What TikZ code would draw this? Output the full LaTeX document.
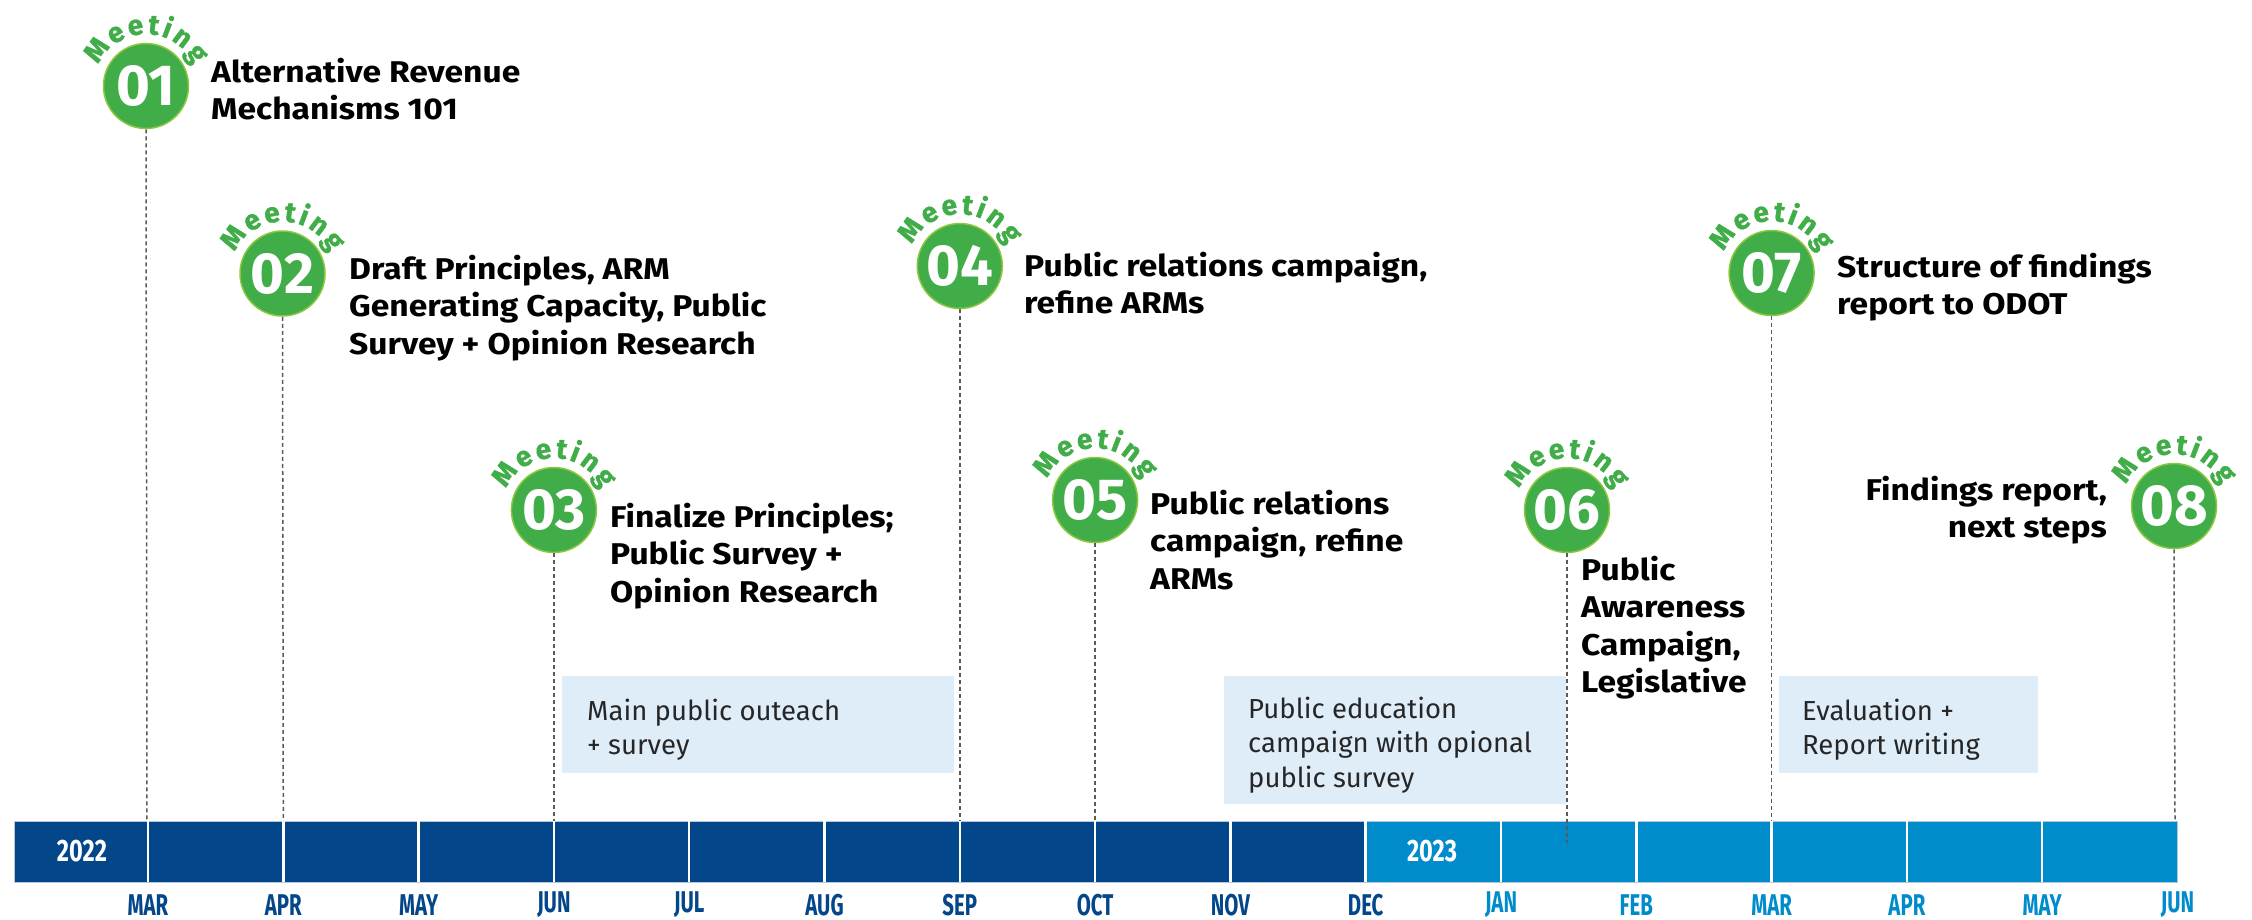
\documentclass[tikz,border=0pt]{standalone}
\usepackage{fontspec}
\setmainfont{Fira Sans}
\setsansfont{Fira Sans}
\newfontfamily\condfont{Fira Sans}[FakeStretch=0.68]
\newfontfamily\yearfont{Fira Sans}[FakeStretch=0.76]
\newfontfamily\descfont{Fira Sans}[FakeStretch=1.12]
\newfontfamily\meetfam{Fira Sans}[BoldFeatures={FakeBold=1.2}]
\usetikzlibrary{decorations.text}
\definecolor{mgreen}{RGB}{64,173,73}
\definecolor{mgreenlt}{RGB}{141,198,63}
\definecolor{dblue}{RGB}{3,70,138}
\definecolor{lblue}{RGB}{0,139,202}
\definecolor{boxblue}{RGB}{223,237,249}
\definecolor{dashgray}{RGB}{90,90,90}
\newcommand\meetfont{\meetfam\bfseries\fontsize{28}{28}\selectfont}
\tikzset{
  mcirc/.style={circle, fill=mgreen, draw=mgreenlt, line width=1.5pt, minimum size=85pt, inner sep=0pt, text=white, font=\bfseries\fontsize{58}{58}\selectfont},
  desc/.style={align=left, font=\descfont\bfseries\fontsize{30}{37.5}\selectfont, inner sep=0pt, anchor=base west, text=black},
  boxtxt/.style={align=left, font=\fontsize{27.5}{34.5}\selectfont, inner sep=0pt, anchor=base west, text=black!85},
  boxfill/.style={fill=boxblue, draw=none},
  mdash/.style={draw=dashgray, dash pattern=on 4pt off 3pt, line width=1.5pt},
  monthlbl/.style={font=\condfont\bfseries\fontsize{30}{30}\selectfont, inner sep=0pt},
  yearlbl/.style={font=\yearfont\bfseries\fontsize{31}{31}\selectfont, text=white, inner sep=0pt},
  meetarc/.style={decorate, decoration={text along path, text={|\meetfont|Meeting}, text align={fit to path}, text color=mgreen}}
}
\begin{document}
\begin{tikzpicture}[x=1pt,y=1pt]
\useasboundingbox (0,0) rectangle (2252,-919);

% background boxes
\fill[boxfill] (562,-676) rectangle (954,-773);
\fill[boxfill] (1224,-676) rectangle (1566,-804);
\fill[boxfill] (1779,-676) rectangle (2038,-773);
\node[boxtxt] (b1) at (587,-754.5) {Main public outeach\\+ survey};
\node[boxtxt] (b2) at (1248,-787) {Public education\\campaign with opional\\public survey};
\node[boxtxt] (b3) at (1802,-754.5) {Evaluation +\\Report writing};

% timeline bar
\fill[dblue] (14,-821) rectangle (1365.7,-882);
\fill[lblue] (1365.7,-821) rectangle (2177.5,-882);
\draw[white!70!dblue, line width=1pt] (14,-821) rectangle (2177.5,-882);
\foreach \i in {0,...,14}{
  \draw[white, line width=2.5pt] ({148+135.3*\i},-821) -- ({148+135.3*\i},-882);
}
\node[yearlbl] (y22) at (82,-851.5) {2022};
\node[yearlbl] (y23) at (1432,-851.5) {2023};

% month labels
\foreach \m [count=\i from 0] in {MAR,APR,MAY,JUN,JUL,AUG,SEP,OCT,NOV,DEC}{
  \node[monthlbl, text=dblue] (ma\i) at ({148+135.3*\i},-905) {\m};
}
\foreach \m [count=\i from 10] in {JAN,FEB,MAR,APR,MAY,JUN}{
  \node[monthlbl, text=lblue] (mb\i) at ({148+135.3*\i},-905) {\m};
}

% meeting circles
\node[mcirc] (m1) at (146,-86) {01};
\node[mcirc] (m2) at (282.5,-273.5) {02};
\node[mcirc] (m3) at (553.9,-510) {03};
\node[mcirc] (m4) at (959.8,-266) {04};
\node[mcirc] (m5) at (1095.1,-500) {05};
\node[mcirc] (m6) at (1567,-510) {06};
\node[mcirc] (m7) at (1771.6,-273) {07};
\node[mcirc] (m8) at (2174,-506) {08};

% bar anchors
\coordinate (t1) at (147,-821);
\coordinate (t2) at (283.3,-821);
\coordinate (t3) at (553.9,-821);
\coordinate (t4) at (959.8,-821);
\coordinate (t5) at (1095.1,-821);
\coordinate (t6) at (1567,-843);
\coordinate (t7) at (1771.6,-821);
\coordinate (t8) at (2175,-821);
\foreach \k in {1,...,8}{
  \draw[mdash] (m\k.south) -- (t\k);
  \path[meetarc] (m\k.center) ++(156:52pt) arc[start angle=156, end angle=24, radius=52pt];
}

% descriptions
\node[desc] (d1) at (211,-119.5) {Alternative Revenue\\Mechanisms 101};
\node[desc] (d2) at (349,-354) {Draft Principles, ARM\\Generating Capacity, Public\\Survey + Opinion Research};
\node[desc] (d3) at (610,-602) {Finalize Principles;\\Public Survey +\\Opinion Research};
\node[desc] (d4) at (1024,-313.5) {Public relations campaign,\\refine ARMs};
\node[desc] (d5) at (1150,-589) {Public relations\\campaign, refine\\ARMs};
\node[desc] (d6) at (1581,-692.5) {Public\\Awareness\\Campaign,\\Legislative};
\node[desc] (d7) at (1837,-314.5) {Structure of findings\\report to ODOT};
\node[desc, anchor=base east, align=right] (d8) at (2107,-537.5) {Findings report,\\next steps};
\end{tikzpicture}
\end{document}
